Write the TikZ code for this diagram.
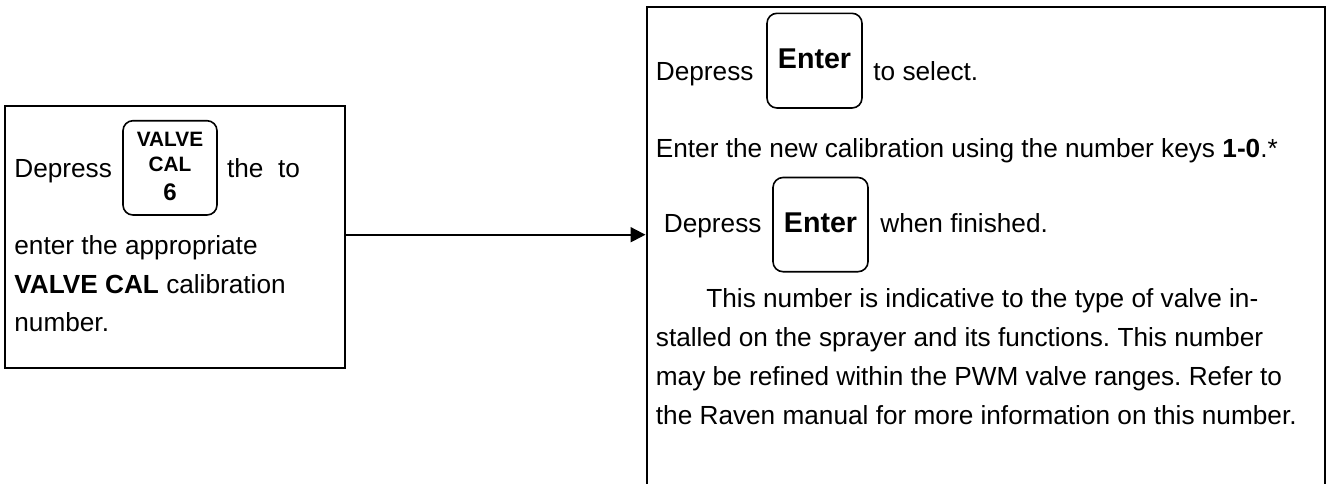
\documentclass[tikz,border=0pt]{standalone}
\usepackage{fontspec}
\setmainfont{Liberation Sans}
\usetikzlibrary{arrows.meta}
\frenchspacing
\begin{document}
\begin{tikzpicture}[x=0.5pt,y=-0.5pt,
  box/.style={draw, line width=1pt, inner sep=0pt},
  keybox/.style={draw, line width=0.8pt, rounded corners=5pt, inner sep=0pt},
  txt/.style={anchor=base west, inner sep=0pt, font=\fontsize{13.1}{15}\selectfont},
  keytxt/.style={anchor=base, inner sep=0pt, font=\fontsize{14.3}{16}\selectfont\bfseries},
  smallkey/.style={anchor=base, inner sep=0pt, font=\fontsize{10.4}{12}\selectfont\bfseries}]
\useasboundingbox (0,0) rectangle (1327,483);
\clip (0,0) rectangle (1327,483);
% boxes
\node[box, minimum width=170pt, minimum height=131.15pt] (lbox) at (174.5,236.85) {};
\node[box, minimum width=339.25pt, minimum height=296.35pt] (rbox) at (985.75,303.65) {};
% left box content
\node[txt] (l1) at (14,177.3) {Depress};
\node[keybox, minimum width=47pt, minimum height=47.15pt] (k0) at (170,167.85) {};
\node[smallkey] (k0a) at (170,146.7) {VALVE};
\node[smallkey] (k0b) at (170,171.7) {CAL};
\node[anchor=base, inner sep=0pt, font=\fontsize{12}{13}\selectfont\bfseries] (k0c) at (170,200.7) {6};
\node[txt] (l2) at (226.7,177.3) {the\ \ to};
\node[txt] (l3) at (14,254) {enter the appropriate};
\node[txt] (l4) at (14,293.3) {\textbf{VALVE CAL} calibration};
\node[txt] (l5) at (14,331.7) {number.};
% right box content
\node[txt] (r1) at (655.5,80) {Depress};
\node[keybox, minimum width=47.5pt, minimum height=47.35pt] (k1) at (814.5,60.65) {};
\node[keytxt] (k1t) at (814.5,68.3) {Enter};
\node[txt] (r2) at (873,80) {to select.};
\node[txt] (r3) at (655.5,157) {Enter the new calibration using the number keys \textbf{1-0}.*};
\node[txt] (r4) at (663.5,232) {Depress};
\node[keybox, minimum width=47.5pt, minimum height=47.1pt] (k2) at (820.5,224.6) {};
\node[keytxt] (k2t) at (820.5,232) {Enter};
\node[txt] (r5) at (880,232) {when finished.};
\node[txt] (p1) at (706,307) {This number is indicative to the type of valve in-};
\node[txt] (p2) at (655.5,346) {stalled on the sprayer and its functions. This number};
\node[txt] (p3) at (655.5,385) {may be refined within the PWM valve ranges. Refer to};
\node[txt] (p4) at (655.5,424) {the Raven manual for more information on this number.};
% connector
\draw[line width=1pt, -{Triangle[length=7.5pt,width=7.5pt]}] ([yshift=1.07pt]lbox.east) -- ([yshift=1.07pt]lbox.east -| rbox.west);
\end{tikzpicture}
\end{document}
